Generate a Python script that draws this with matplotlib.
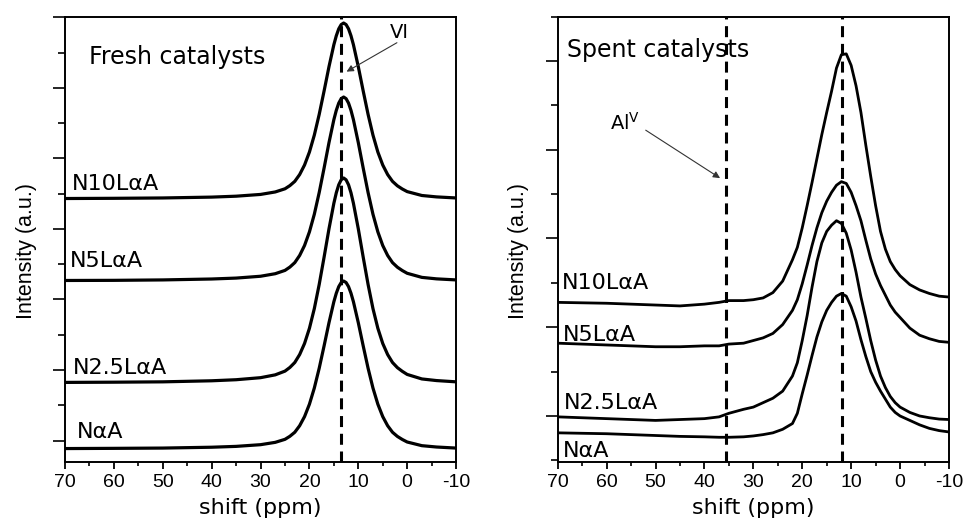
"""27Al MAS NMR spectra of fresh and spent catalysts (two stacked panels)."""

import matplotlib
matplotlib.use("Agg")
import matplotlib.pyplot as plt
from matplotlib.ticker import MultipleLocator, NullFormatter


# ---- fresh catalysts (left panel) ----
fresh_ppm = [70, 60, 50, 40, 35, 30, 27, 25, 24, 23, 22, 21, 20, 19, 18, 17, 16, 15, 14.5, 14,
             13.5, 13, 12.5, 12, 11.5, 11, 10, 9, 8, 7, 6, 5, 4, 3, 2, 1, 0, -3, -6, -10]
fresh_n10 = [3.431, 3.434, 3.439, 3.451, 3.464, 3.489, 3.524, 3.569, 3.614, 3.674, 3.771, 3.906,
             4.090, 4.330, 4.624, 4.956, 5.300, 5.612, 5.739, 5.837, 5.897, 5.919, 5.897, 5.837,
             5.739, 5.612, 5.300, 4.956, 4.624, 4.330, 4.090, 3.906, 3.771, 3.674, 3.611, 3.566,
             3.529, 3.474, 3.454, 3.439]
fresh_n5 = [2.269, 2.271, 2.277, 2.290, 2.303, 2.329, 2.365, 2.412, 2.459, 2.522, 2.624, 2.765,
            2.958, 3.208, 3.516, 3.863, 4.223, 4.549, 4.682, 4.784, 4.847, 4.870, 4.847, 4.784,
            4.682, 4.549, 4.223, 3.863, 3.516, 3.208, 2.958, 2.765, 2.624, 2.522, 2.457, 2.410,
            2.371, 2.313, 2.292, 2.277]
fresh_n25 = [0.824, 0.827, 0.832, 0.847, 0.862, 0.891, 0.931, 0.984, 1.036, 1.106, 1.219, 1.376,
             1.591, 1.870, 2.213, 2.600, 3.001, 3.364, 3.513, 3.626, 3.696, 3.722, 3.696, 3.626,
             3.513, 3.364, 3.001, 2.600, 2.213, 1.870, 1.591, 1.376, 1.219, 1.106, 1.033, 0.981,
             0.937, 0.873, 0.850, 0.832]
fresh_na = [-0.114, -0.111, -0.107, -0.095, -0.083, -0.059, -0.026, 0.017, 0.060, 0.117, 0.210,
            0.339, 0.515, 0.744, 1.025, 1.342, 1.670, 1.968, 2.089, 2.182, 2.240, 2.261, 2.240,
            2.182, 2.089, 1.968, 1.670, 1.342, 1.025, 0.744, 0.515, 0.339, 0.210, 0.117, 0.058,
            0.015, -0.021, -0.073, -0.092, -0.107]

# ---- spent catalysts (right panel) ----
spent_ppm = [70, 65, 60, 55, 50, 45, 40, 37, 35, 32, 30, 28, 26, 24, 22, 21, 20, 19, 18, 17, 16,
             15, 14, 13, 12, 11, 10, 9, 8, 7, 6, 5, 4, 3, 2, 1, 0, -2, -4, -6, -8, -10]
spent_n10 = [1.28, 1.275, 1.27, 1.26, 1.25, 1.24, 1.26, 1.28, 1.30, 1.30, 1.31, 1.33, 1.39, 1.52, 1.76,
             1.90, 2.12, 2.37, 2.63, 2.90, 3.17, 3.42, 3.66, 3.92, 4.07, 4.08, 3.95, 3.72, 3.42, 3.05,
             2.70, 2.37, 2.08, 1.88, 1.74, 1.65, 1.58, 1.48, 1.42, 1.38, 1.35, 1.34]
spent_n5 = [0.82, 0.81, 0.80, 0.79, 0.78, 0.78, 0.79, 0.79, 0.81, 0.82, 0.85, 0.88, 0.93, 1.03, 1.19,
            1.31, 1.49, 1.70, 1.92, 2.12, 2.29, 2.42, 2.52, 2.60, 2.64, 2.62, 2.52, 2.37, 2.20, 1.98,
            1.77, 1.60, 1.47, 1.36, 1.25, 1.17, 1.11, 0.99, 0.91, 0.87, 0.84, 0.83]
spent_n25 = [-0.01, -0.02, -0.03, -0.04, -0.05, -0.04, -0.03, -0.01, 0.03, 0.075, 0.10, 0.15, 0.20, 0.28,
             0.45, 0.60, 0.85, 1.13, 1.45, 1.74, 1.95, 2.08, 2.15, 2.20, 2.17, 2.06, 1.87, 1.62, 1.34,
             1.10, 0.85, 0.63, 0.45, 0.32, 0.22, 0.15, 0.10, 0.04, 0.00, -0.02, -0.035, -0.04]
spent_na = [-0.19, -0.195, -0.20, -0.21, -0.22, -0.23, -0.235, -0.24, -0.24, -0.235, -0.225, -0.21, -0.19,
            -0.15, -0.085, 0.03, 0.25, 0.46, 0.68, 0.89, 1.06, 1.19, 1.28, 1.35, 1.38, 1.35, 1.23, 1.07,
            0.86, 0.67, 0.50, 0.38, 0.28, 0.19, 0.10, 0.04, 0.00, -0.05, -0.10, -0.14, -0.165, -0.18]

sample_labels = ["N10L\u03b1A", "N5L\u03b1A", "N2.5L\u03b1A", "N\u03b1A"]
x_ticks = [70, 60, 50, 40, 30, 20, 10, 0, -10]
x_tick_labels = ["70", "60", "50", "40", "30", "20", "10", "0", "-10"]

fresh_dash_ppm = [13.6]
spent_dash_ppm = [35.5, 11.8]

TICK_FONT = ["Liberation Sans", "DejaVu Sans"]
YLABEL_FONT = ["Liberation Sans", "DejaVu Sans"]


def style_axes(ax, ylim):
    ax.set_xlim(70, -10)
    ax.set_ylim(*ylim)
    ax.set_xticks(x_ticks, labels=x_tick_labels, fontsize=14, family=TICK_FONT)
    ax.xaxis.set_minor_locator(MultipleLocator(5))
    ax.yaxis.set_major_locator(MultipleLocator(1))
    ax.yaxis.set_minor_locator(MultipleLocator(0.5))
    ax.yaxis.set_major_formatter(NullFormatter())
    for spine in ax.spines.values():
        spine.set_linewidth(1.4)
    ax.tick_params(axis="x", which="major", direction="out", length=5, width=1.3, pad=4)
    ax.tick_params(axis="x", which="minor", direction="out", length=3, width=1.2)
    ax.tick_params(axis="y", which="major", direction="out", length=9, width=1.2)
    ax.tick_params(axis="y", which="minor", direction="out", length=5, width=1.2)
    ax.set_xlabel("shift (ppm)", fontsize=16)
    ax.xaxis.set_label_coords(0.5, -0.082)
    ax.set_ylabel("Intensity (a.u.)", fontsize=15.5, family=YLABEL_FONT)
    ax.yaxis.set_label_coords(-0.072, 0.474)


fig = plt.figure(figsize=(9.65, 5.28), dpi=100)
ax_fresh = fig.add_axes([0.0674, 0.1256, 0.4052, 0.8416])
ax_spent = fig.add_axes([0.5779, 0.1256, 0.4055, 0.8430])

# left panel
for series in [fresh_n10, fresh_n5, fresh_n25, fresh_na]:
    ax_fresh.plot(fresh_ppm, series, color="black", lw=2.3, solid_joinstyle="round")
for x in fresh_dash_ppm:
    ax_fresh.axvline(x, color="black", lw=2.2, dashes=(3.6, 2.2), zorder=1)
style_axes(ax_fresh, (-0.3, 6.0))

fresh_label_pos = [(68.6, 3.55), (69.0, 2.46), (68.4, 0.94), (67.5, 0.035)]
for text, (x, y) in zip(sample_labels, fresh_label_pos):
    ax_fresh.text(x, y, text, fontsize=16, ha="left", va="baseline")
ax_fresh.text(65.2, 5.345, "Fresh catalysts", fontsize=17, ha="left", va="baseline")
ax_fresh.text(1.7, 5.70, "VI", fontsize=14, ha="center", va="baseline")
ax_fresh.annotate("", xy=(12.4, 5.23), xytext=(2.1, 5.64),
                  arrowprops=dict(arrowstyle="-|>", color="#333333", lw=0.8,
                                  mutation_scale=10, shrinkA=0, shrinkB=0))

# right panel
for series in [spent_n10, spent_n5, spent_n25, spent_na]:
    ax_spent.plot(spent_ppm, series, color="black", lw=2.0, solid_joinstyle="round")
for x in spent_dash_ppm:
    ax_spent.axvline(x, color="black", lw=2.2, dashes=(3.6, 2.2), zorder=1)
style_axes(ax_spent, (-0.515, 4.5))

spent_label_pos = [(69.2, 1.43), (68.85, 0.845), (68.7, 0.08), (68.85, -0.46)]
for text, (x, y) in zip(sample_labels, spent_label_pos):
    ax_spent.text(x, y, text, fontsize=16, ha="left", va="baseline")
ax_spent.text(68.1, 4.05, "Spent catalysts", fontsize=17, ha="left", va="baseline")
ax_spent.text(56.2, 3.22, "Al$^{\\mathrm{V}}$", fontsize=14, ha="center", va="baseline")
ax_spent.annotate("", xy=(36.8, 2.68), xytext=(52.0, 3.22),
                  arrowprops=dict(arrowstyle="-|>", color="#333333", lw=0.8,
                                  mutation_scale=10, shrinkA=0, shrinkB=0))

fig.savefig("out.png", dpi=100)
